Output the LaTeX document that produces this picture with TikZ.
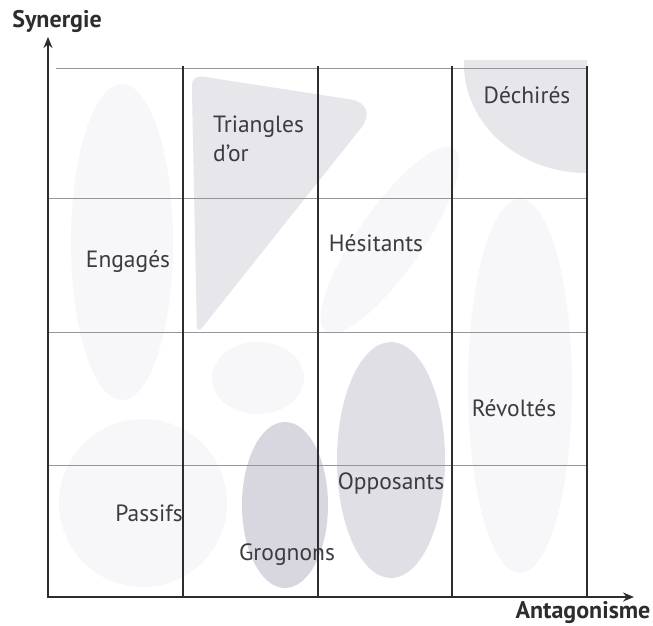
\documentclass[tikz,border=0pt]{standalone}
\usepackage{fontspec}
\setmainfont{PT Sans}
\usetikzlibrary{arrows.meta}
\definecolor{inkc}{RGB}{45,45,48}
\definecolor{gridh}{RGB}{150,150,152}
\definecolor{labc}{RGB}{60,60,64}
\definecolor{blobA}{RGB}{216,215,223}
\definecolor{blobB}{RGB}{224,223,230}
\definecolor{blobC}{RGB}{230,230,235}
\definecolor{blobF}{RGB}{247,247,249}
\tikzset{
  vline/.style={draw=inkc, line width=1.3pt},
  hline/.style={draw=gridh, line width=0.6pt},
  axisline/.style={draw=inkc, line width=1.8pt, -{Stealth[length=11pt,width=9pt]}},
  axislab/.style={font=\fontsize{24}{28}\selectfont\bfseries, text=inkc, inner sep=0pt},
  cell/.style={font=\fontsize{23.5}{28}\selectfont, text=labc, inner sep=0pt},
}
\begin{document}
\begin{tikzpicture}[x=1pt,y=-1pt]
\useasboundingbox[fill=white] (0,0) rectangle (653,625);
% faint blobs
\fill[blobF] (122,242) ellipse (51 and 158);
\fill[blobF] (143,503) ellipse (84 and 84);
\fill[blobF] (258,378) ellipse (46 and 36);
\fill[blobF] (520,386) ellipse (52 and 187);
\fill[blobF, rotate around={55:(390,240)}] (390,240) ellipse (112 and 32);
% triangle d'or
\fill[blobC] (192,92) [rounded corners=10pt] -- (192,75) [rounded corners=30pt] -- (380,104) [rounded corners=8pt] -- (197,334) [sharp corners] -- cycle;
% dechires
\begin{scope}
\clip (452,60) rectangle (587,198);
\fill[blobC] (587,64) ellipse (123 and 109);
\end{scope}
% grognons / opposants
\fill[blobA] (285,505) ellipse (43 and 83);
\fill[blobB] (391,460) ellipse (54 and 118);
% horizontal grid lines
\coordinate (h1l) at (56,68);  \coordinate (h1r) at (587,68);
\coordinate (h2l) at (48,198); \coordinate (h2r) at (587,198);
\coordinate (h3l) at (48,332); \coordinate (h3r) at (587,332);
\coordinate (h4l) at (48,465); \coordinate (h4r) at (587,465);
\draw[hline] (h1l) -- (h1r);
\draw[hline] (h2l) -- (h2r);
\draw[hline] (h3l) -- (h3r);
\draw[hline] (h4l) -- (h4r);
% vertical lines
\foreach \i/\x in {1/183,2/318,3/452,4/587}{
  \coordinate (vt\i) at (\x,66);
  \coordinate (vb\i) at (\x,597);
  \draw[vline] (vt\i) -- (vb\i);
}
% axes
\coordinate (o) at (48,597);
\coordinate (ytip) at (48,37);
\coordinate (xtip) at (634,597);
\draw[axisline] (o) -- (ytip);
\draw[axisline] ([xshift=-0.9pt]o) -- (xtip);
% labels
\node[axislab] (syn) at (57,21) {Synergie};
\node[axislab] (ant) at (583,612) {Antagonisme};
\node[cell] (dech) at (527,95) {Déchirés};
\node[cell, anchor=west] (tri1) at (213,127) {Triangles};
\node[cell, anchor=west] (tri2) at (213,153) {d’or};
\node[cell] (eng) at (128,262) {Engagés};
\node[cell] (hes) at (376,243) {Hésitants};
\node[cell] (rev) at (514,408) {Révoltés};
\node[cell] (opp) at (391,483) {Opposants};
\node[cell] (pas) at (149,513) {Passifs};
\node[cell] (gro) at (287,555) {Grognons};
\end{tikzpicture}
\end{document}
